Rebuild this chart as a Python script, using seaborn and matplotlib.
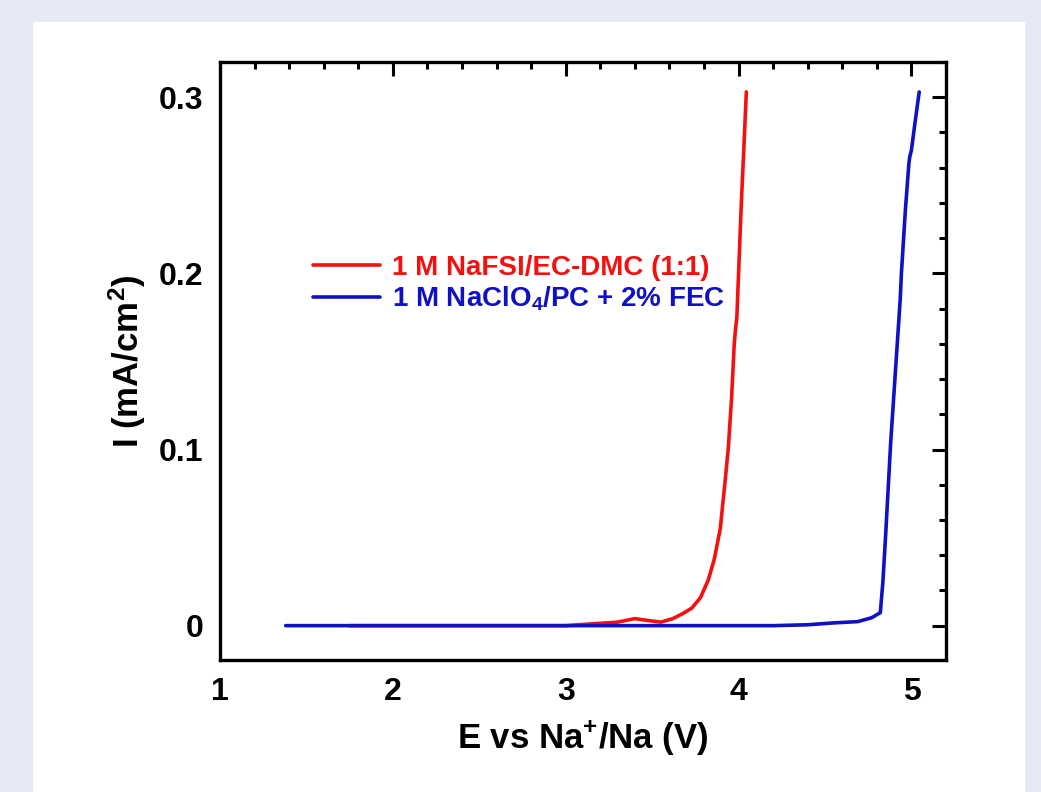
import numpy as np
import pandas as pd
import matplotlib
matplotlib.use("Agg")
import matplotlib.pyplot as plt
import seaborn as sns
from matplotlib import font_manager
from matplotlib.patches import Rectangle
from matplotlib.ticker import MultipleLocator, FixedLocator, FixedFormatter

# ---- data ----
red_E = [1.75, 2.5, 3.0, 3.15, 3.3, 3.4, 3.47, 3.55, 3.62, 3.68, 3.73, 3.78, 3.825,
         3.86, 3.894, 3.92, 3.94, 3.96, 3.975, 3.982, 3.99, 4.016, 4.03, 4.045]
red_I = [0.0, 0.0, 0.0, 0.001, 0.002, 0.004, 0.003, 0.002, 0.004, 0.007, 0.010, 0.016,
         0.026, 0.038, 0.055, 0.080, 0.100, 0.130, 0.160, 0.168, 0.175, 0.240, 0.270, 0.303]
blue_E = [1.38, 2.5, 3.5, 4.2, 4.4, 4.54, 4.69, 4.77, 4.82, 4.835, 4.85, 4.88, 4.935,
          4.942, 4.965, 4.985, 4.99, 5.0, 5.02, 5.045]
blue_I = [0.0, 0.0, 0.0, 0.0, 0.0005, 0.0015, 0.0023, 0.0045, 0.0074, 0.025, 0.050,
          0.104, 0.185, 0.200, 0.236, 0.262, 0.266, 0.270, 0.285, 0.303]
series_labels = ["1 M NaFSI/EC-DMC (1:1)", "1 M NaClO$_4$/PC + 2% FEC"]
series_colors = ["#f51010", "#1010c4"]
x_ticks = [1, 2, 3, 4, 5]
y_ticks = [0.0, 0.1, 0.2, 0.3]
y_ticklabels = ["0", "0.1", "0.2", "0.3"]

df = pd.concat([
    pd.DataFrame({"E": red_E, "I": red_I, "series": series_labels[0]}),
    pd.DataFrame({"E": blue_E, "I": blue_I, "series": series_labels[1]}),
], ignore_index=True)

sns.set_theme(style="white")
names = {f.name for f in font_manager.fontManager.ttflist}
narrow = "Liberation Sans Narrow" if "Liberation Sans Narrow" in names else "Liberation Sans"
plt.rcParams["font.family"] = ["Liberation Sans", "DejaVu Sans"]
plt.rcParams["text.color"] = "black"
plt.rcParams["axes.labelcolor"] = "black"
plt.rcParams["xtick.color"] = "black"
plt.rcParams["ytick.color"] = "black"
plt.rcParams["mathtext.fontset"] = "custom"
plt.rcParams["mathtext.rm"] = narrow + ":bold"
plt.rcParams["mathtext.bf"] = narrow + ":bold"
plt.rcParams["mathtext.default"] = "bf"

fig = plt.figure(figsize=(10.41, 7.92), dpi=100)
fig.patch.set_facecolor("#e6eaf5")
bg = Rectangle((33 / 1041, 0), (1025 - 33) / 1041, (792 - 22) / 792,
               transform=fig.transFigure, facecolor="white", edgecolor="none", zorder=-10)
fig.add_artist(bg)
ax = fig.add_axes([220 / 1041, (792 - 660) / 792, (946 - 220) / 1041, (660 - 62) / 792])
ax.set_zorder(5)
ax.set_facecolor("white")

sns.lineplot(data=df, x="E", y="I", hue="series", palette=series_colors,
             hue_order=series_labels, sort=False, estimator=None, lw=2.6, ax=ax)

ax.set_xlim(1, 5.2)
ax.set_ylim(-0.0195, 0.32)
ax.xaxis.set_major_locator(FixedLocator(x_ticks))
ax.xaxis.set_minor_locator(MultipleLocator(0.2))
ax.yaxis.set_major_locator(FixedLocator(y_ticks))
ax.yaxis.set_major_formatter(FixedFormatter(y_ticklabels))
ax.yaxis.set_minor_locator(MultipleLocator(0.02))

for s in ax.spines.values():
    s.set_linewidth(2.4)
    s.set_color("black")
ax.tick_params(which="both", direction="in", top=True, right=True, width=2.2,
               color="black", labelcolor="black")
ax.tick_params(which="major", length=10, pad=12)
ax.tick_params(which="minor", length=5)
for lab in ax.get_xticklabels() + ax.get_yticklabels():
    lab.set_fontfamily(narrow)
    lab.set_fontweight("bold")
    lab.set_fontsize(23)

ax.set_xlabel("E vs Na$^{+}$/Na (V)", fontsize=25, fontweight="bold", family=narrow,
              labelpad=8, color="black")
ax.set_ylabel("I (mA/cm$^{2}$)", fontsize=25, fontweight="bold", family=narrow,
              labelpad=8, color="black")

handles, labels = ax.get_legend_handles_labels()
leg = ax.legend(handles, labels, loc="upper left", bbox_to_anchor=(0.128, 0.677),
                frameon=False, handlelength=2.4, handletextpad=0.45, labelspacing=0.12,
                borderpad=0, borderaxespad=0, labelcolor="linecolor",
                prop={"family": "Liberation Sans", "weight": "bold", "size": 20})
for line in leg.get_lines():
    line.set_linewidth(2.6)

fig.savefig("out.png", dpi=100, facecolor=fig.get_facecolor())
